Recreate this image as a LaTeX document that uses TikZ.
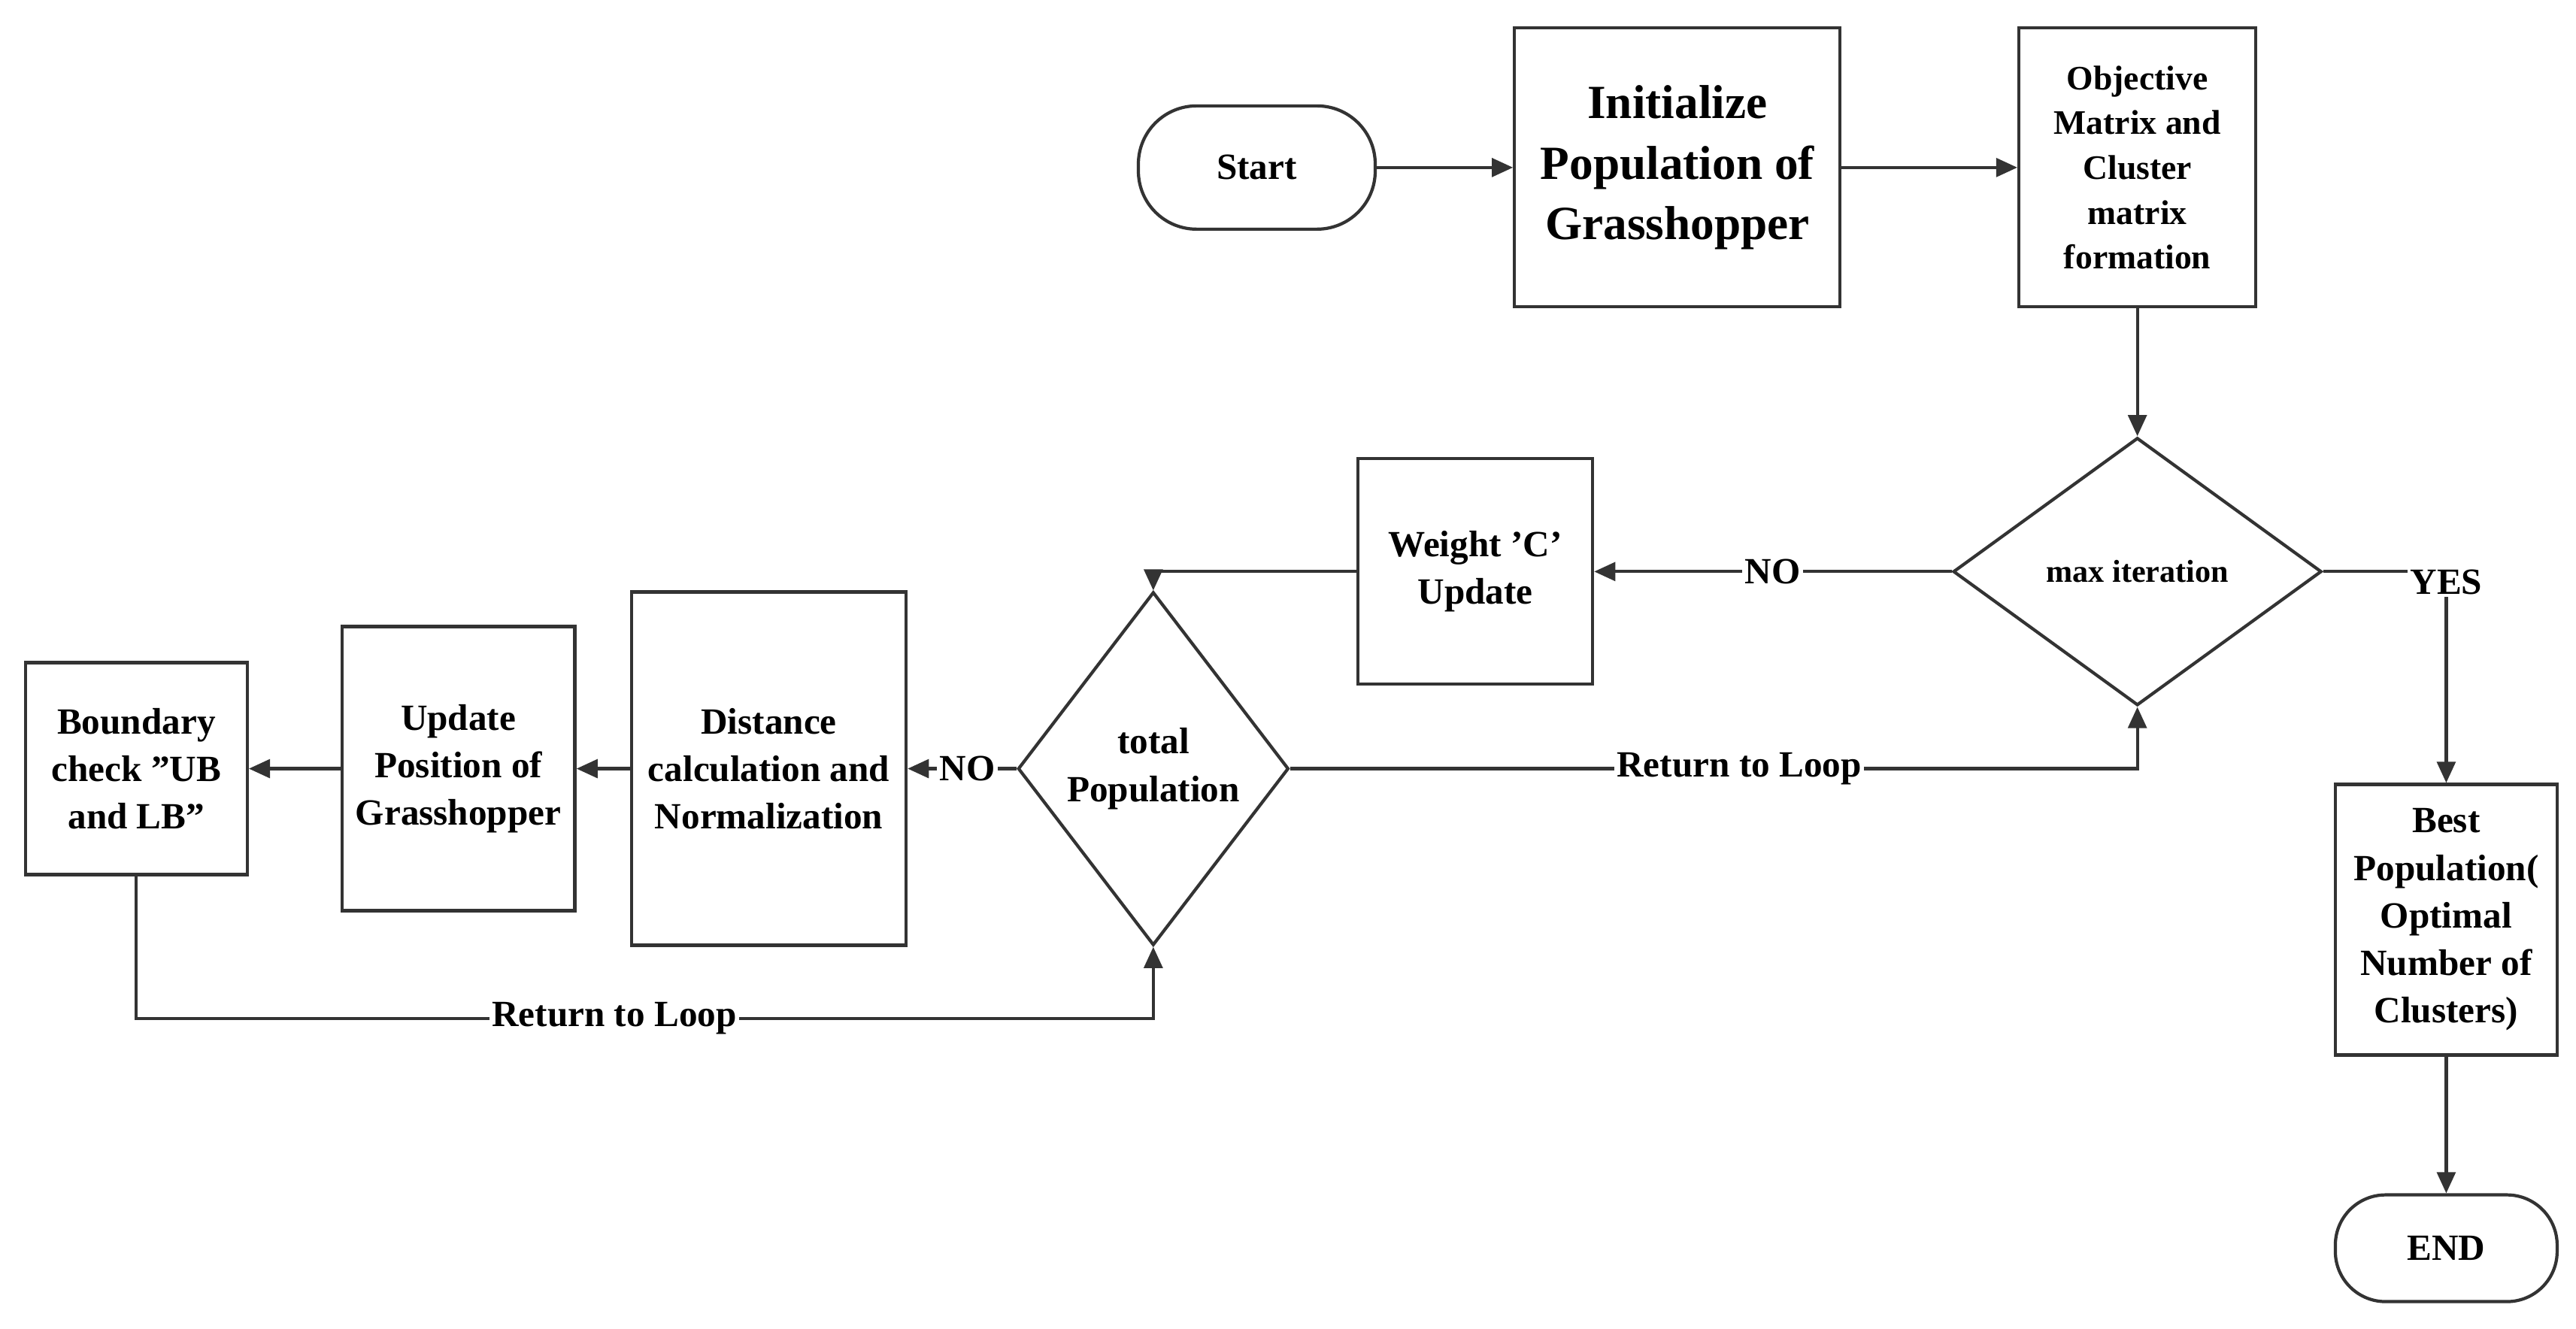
\documentclass[tikz,border=0pt]{standalone}
\usepackage{fontspec}
\setmainfont{Liberation Serif}
\usetikzlibrary{shapes.geometric,arrows.meta}
\begin{document}
\begin{tikzpicture}[x=0.02185cm,y=-0.02185cm,
 box/.style={draw=black!80,line width=1.2pt,align=center,font=\bfseries\fontsize{14}{18}\selectfont,inner sep=2pt},
 dia/.style={draw=black!80,line width=1.2pt,diamond,inner sep=0pt},
 arr/.style={draw=black!80,line width=1.2pt,-{Triangle[length=8pt,width=7pt]}},
 lab/.style={fill=white,font=\bfseries\fontsize{14}{18}\selectfont,inner sep=1pt}]
\useasboundingbox (0,0) rectangle (1568,809);
\node[box,rounded corners=22pt,minimum width=3.15cm,minimum height=1.64cm] (start) at (765,102) {Start};
\node[box,minimum width=4.33cm,minimum height=3.71cm,font=\bfseries\fontsize{18}{23}\selectfont] (init) at (1021,102) {Initialize\\Population of\\Grasshopper};
\node[box,minimum width=3.15cm,minimum height=3.71cm,font=\bfseries\fontsize{13}{17}\selectfont] (obj) at (1301,102) {Objective\\Matrix and\\Cluster\\matrix\\formation};
\node[dia,minimum width=4.9cm,minimum height=3.56cm,aspect=1.37] (max) at (1301,348) {};
\node[font=\bfseries\fontsize{12}{15}\selectfont] at (1301,348) {max iteration};
\node[box,minimum width=3.12cm,minimum height=3.0cm] (w) at (898,348) {Weight 'C'\\Update};
\node[dia,minimum width=3.6cm,minimum height=4.7cm] (tot) at (702,468) {};
\node[font=\bfseries\fontsize{14}{18}\selectfont,align=center] at (702,468) {total\\Population};
\node[box,minimum width=3.65cm,minimum height=4.7cm] (dist) at (468,468) {Distance\\calculation and\\Normalization};
\node[box,minimum width=3.1cm,minimum height=3.78cm] (upd) at (279,468) {Update\\Position of\\Grasshopper};
\node[box,minimum width=2.95cm,minimum height=2.82cm] (bnd) at (83,468) {Boundary\\check "UB\\and LB"};
\node[box,minimum width=2.95cm,minimum height=3.6cm] (best) at (1489,560) {Best\\Population(\\Optimal\\Number of\\Clusters)};
\node[box,rounded corners=19pt,minimum width=2.95cm,minimum height=1.42cm] (end) at (1489,760) {END};
\coordinate (c1) at (702,348);
\coordinate (c2) at (83,620);
\coordinate (c3) at (702,620);
\coordinate (c4) at (1301,468);
\coordinate (c5) at (1489,348);
\draw[arr] (start) -- (init);
\draw[arr] (init) -- (obj);
\draw[arr] (obj) -- (max.north);
\draw[arr] (max.west) -- node[lab]{NO} (w.east);
\draw[arr] (w.west) -- (c1) -- (tot.north);
\draw[arr] (tot.west) -- node[lab,pos=0.45]{NO} (dist.east);
\draw[arr] (dist) -- (upd);
\draw[arr] (upd) -- (bnd);
\draw[arr] (bnd.south) -- (c2) -- node[lab,pos=0.47]{Return to Loop} (c3) -- (tot.south);
\draw[arr] (tot.east) -- node[lab,pos=0.53]{Return to Loop} (c4) -- (max.south);
\draw[arr] (max.east) -- (c5) -- node[lab,pos=0.05]{YES} (best.north);
\draw[arr] (best) -- (end);
\end{tikzpicture}
\end{document}
